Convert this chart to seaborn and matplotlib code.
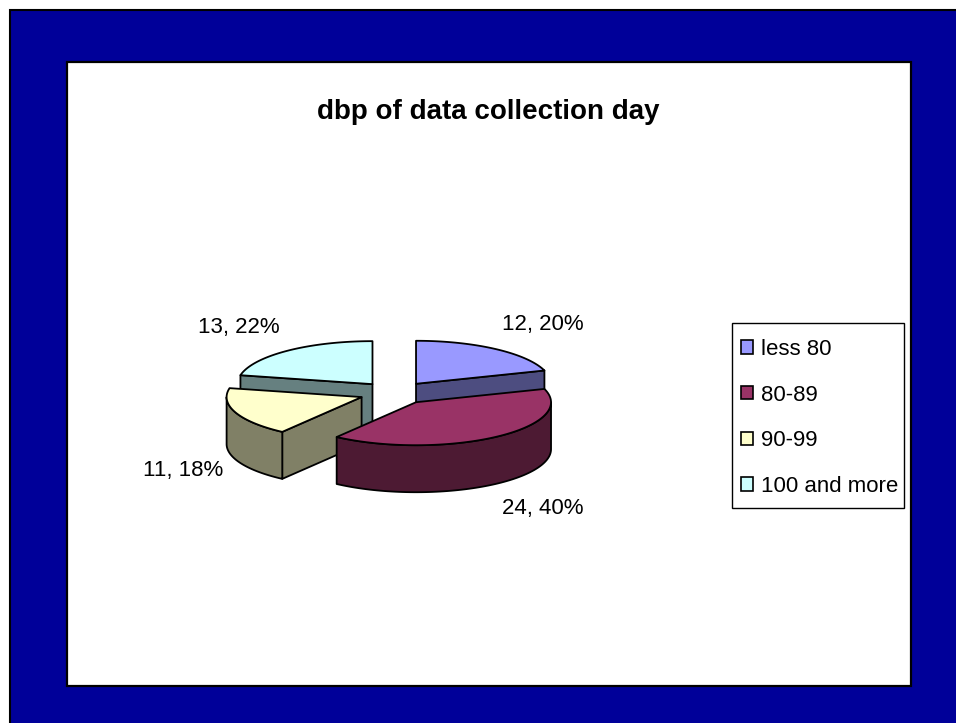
import numpy as np
import matplotlib
matplotlib.use("Agg")
import matplotlib.pyplot as plt
from matplotlib.patches import Polygon, Rectangle, Patch
import seaborn as sns

# ---- data -------------------------------------------------------------
categories = ["less 80", "80-89", "90-99", "100 and more"]
counts = [12, 24, 11, 13]
chart_title = "dbp of data collection day"

# ---- style ------------------------------------------------------------
sns.set_style("white")
plt.rcParams["font.family"] = ["Liberation Sans", "DejaVu Sans"]
plt.rcParams["text.color"] = "black"

top_colors = sns.color_palette(["#9999FF", "#993366", "#FFFFCC", "#CCFFFF"])
side_colors = [tuple(0.5 * v for v in col) for col in top_colors]

W, H = 956, 723
fig = plt.figure(figsize=(W / 100, H / 100), dpi=100)
fig.patch.set_facecolor("white")
ax = fig.add_axes([0, 0, 1, 1])
ax.set_xlim(0, W)
ax.set_ylim(H, 0)
ax.axis("off")

# slide frame and white chart area
ax.add_patch(Rectangle((10, 10), W, H, facecolor="#000099",
                       edgecolor="black", lw=1.5, zorder=0))
ax.add_patch(Rectangle((67, 62), 844, 624, facecolor="white",
                       edgecolor="black", lw=1.6, zorder=1))

ax.text(488, 112, chart_title, ha="center", va="center",
        fontsize=20, fontweight="bold", zorder=50)

# ---- 3D exploded pie geometry --------------------------------------------
cx, cy = 395, 393        # pie centre
rx, ry = 135, 43         # ellipse radii of the top face
depth = 47               # slab thickness
explode = 0.265          # radial offset as a fraction of the radius
edge_kw = dict(edgecolor="black", linewidth=1.3, joinstyle="round")

values = np.asarray(counts, dtype=float)
fracs = values / values.sum()
percents = np.round(fracs * 100).astype(int)
bounds = np.concatenate([[0.0], np.cumsum(fracs) * 360.0])


def rim(ox, oy, ang, dz=0.0):
    t = np.radians(ang)
    return ox + rx * np.sin(t), oy - ry * np.cos(t) + dz


def arc(ox, oy, a0, a1, dz=0.0, n=80):
    angs = np.linspace(a0, a1, n)
    xs, ys = rim(ox, oy, angs, dz)
    return list(zip(xs, ys))


slices = []
for i in range(len(values)):
    a0, a1 = bounds[i], bounds[i + 1]
    mid = 0.5 * (a0 + a1)
    tm = np.radians(mid)
    ox = cx + explode * rx * np.sin(tm)
    oy = cy - explode * ry * np.cos(tm)
    slices.append((i, a0, a1, mid, ox, oy))

# paint back slices first
order = sorted(slices, key=lambda s: -np.cos(np.radians(s[3])))
z = 10
for i, a0, a1, mid, ox, oy in order:
    apex = (ox, oy)
    apex_b = (ox, oy + depth)
    # radial walls facing the viewer
    for ang, normal in ((a0, a0 - 90), (a1, a1 + 90)):
        if np.cos(np.radians(normal)) < -1e-6:
            p = rim(ox, oy, ang)
            pb = rim(ox, oy, ang, depth)
            ax.add_patch(Polygon([apex, p, pb, apex_b], closed=True,
                                 facecolor=side_colors[i], zorder=z, **edge_kw))
            z += 1
    # curved outer wall (front half only)
    lo, hi = max(a0, 90.0), min(a1, 270.0)
    if lo < hi:
        pts = arc(ox, oy, lo, hi) + arc(ox, oy, hi, lo, depth)
        ax.add_patch(Polygon(pts, closed=True, facecolor=side_colors[i],
                             zorder=z, **edge_kw))
        z += 1
    # top face
    pts = [apex] + arc(ox, oy, a0, a1)
    ax.add_patch(Polygon(pts, closed=True, facecolor=top_colors[i],
                         zorder=z, **edge_kw))
    z += 1

# data labels "count, percent", inner edge anchored just outside the rim
for i, a0, a1, mid, ox, oy in slices:
    tm = np.radians(mid)
    s = np.sin(tm)
    side = 1 if s >= 0 else -1
    lx = ox + 1.125 * rx * s - 3 * side
    ly = oy - 1.7 * ry * np.cos(tm) + (depth if np.cos(tm) < 0 else 0)
    ax.text(lx, ly, f"{counts[i]}, {percents[i]}%",
            ha="left" if side > 0 else "right", va="center",
            fontsize=16, zorder=60)

# legend with a fixed frame
ax.add_patch(Rectangle((732, 323), 172, 185, facecolor="white",
                       edgecolor="black", lw=1.0, zorder=65))
handles = [Patch(facecolor=top_colors[i], edgecolor="black", linewidth=1.2,
                 label=categories[i]) for i in range(len(categories))]
leg = ax.legend(handles=handles, loc="upper left",
                bbox_to_anchor=(732 / W, 1 - 330 / H),
                bbox_transform=fig.transFigure, frameon=False, fontsize=16,
                handlelength=0.55, handleheight=0.55, handletextpad=0.35,
                labelspacing=1.11, borderpad=0.4, borderaxespad=0)
leg.set_zorder(70)

fig.savefig("out.png", dpi=100)
